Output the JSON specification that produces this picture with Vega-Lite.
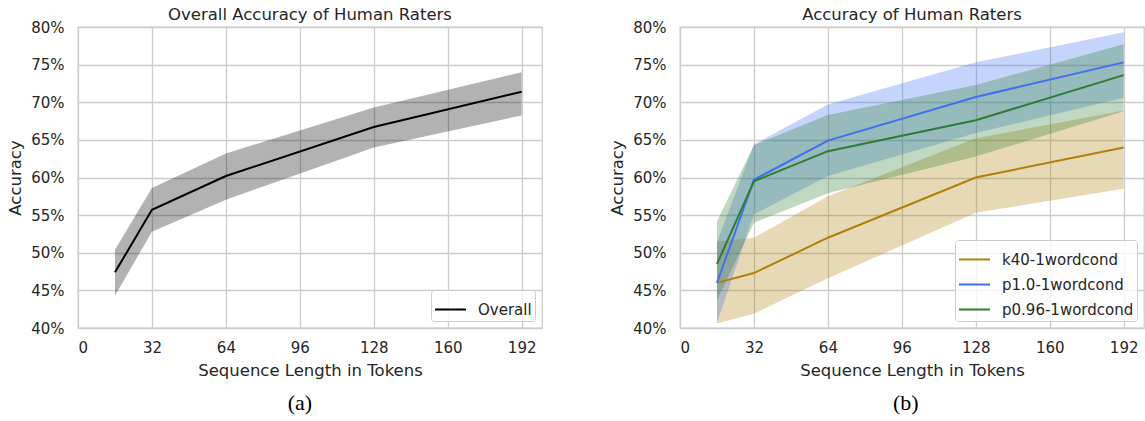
{
  "$schema": "https://vega.github.io/schema/vega-lite/v6.json",
  "background": "white",
  "padding": {"left": 7, "top": 5, "right": 0, "bottom": 0},
  "config": {
    "font": "DejaVu Sans",
    "view": {"stroke": "#cccccc", "strokeWidth": 1.3},
    "axis": {"grid": true, "gridColor": "#cccccc", "gridWidth": 1.3, "domain": false, "ticks": false, "labelOverlap": false,
      "labelFont": "DejaVu Sans", "labelFontSize": 15, "labelColor": "#262626",
      "titleFont": "DejaVu Sans", "titleFontSize": 16.5, "titleFontWeight": "normal", "titleColor": "#262626"},
    "axisX": {"labelPadding": 12, "titlePadding": 7},
    "axisY": {"labelPadding": 14, "titlePadding": 7},
    "title": {"font": "DejaVu Sans", "fontSize": 16.5, "fontWeight": "normal", "color": "#262626", "offset": -3},
    "legend": {"orient": "bottom-right", "offset": 7, "symbolType": "stroke", "symbolSize": 961, "symbolStrokeWidth": 2, "symbolOpacity": 1,
      "labelFont": "DejaVu Sans", "labelFontSize": 15, "labelColor": "#262626", "labelOffset": 11, "rowPadding": -7,
      "padding": 3, "fillColor": "rgba(255,255,255,0.8)", "strokeColor": "#cccccc", "cornerRadius": 3},
    "concat": {"spacing": 66}
  },
  "datasets": {
    "overall": [
      {"len": 16, "acc": 0.474, "lo": 0.443, "hi": 0.504, "series": "Overall"},
      {"len": 32, "acc": 0.557, "lo": 0.528, "hi": 0.586, "series": "Overall"},
      {"len": 64, "acc": 0.602, "lo": 0.5705, "hi": 0.632, "series": "Overall"},
      {"len": 128, "acc": 0.667, "lo": 0.640, "hi": 0.693, "series": "Overall"},
      {"len": 192, "acc": 0.714, "lo": 0.6825, "hi": 0.740, "series": "Overall"}
    ],
    "models": [
      {"len": 16, "acc": 0.460, "lo": 0.406, "hi": 0.515, "series": "k40-1wordcond"},
      {"len": 32, "acc": 0.473, "lo": 0.419, "hi": 0.520, "series": "k40-1wordcond"},
      {"len": 64, "acc": 0.520, "lo": 0.466, "hi": 0.575, "series": "k40-1wordcond"},
      {"len": 128, "acc": 0.600, "lo": 0.553, "hi": 0.652, "series": "k40-1wordcond"},
      {"len": 192, "acc": 0.640, "lo": 0.585, "hi": 0.689, "series": "k40-1wordcond"},
      {"len": 16, "acc": 0.460, "lo": 0.407, "hi": 0.514, "series": "p1.0-1wordcond"},
      {"len": 32, "acc": 0.597, "lo": 0.551, "hi": 0.644, "series": "p1.0-1wordcond"},
      {"len": 64, "acc": 0.649, "lo": 0.602, "hi": 0.697, "series": "p1.0-1wordcond"},
      {"len": 128, "acc": 0.707, "lo": 0.659, "hi": 0.753, "series": "p1.0-1wordcond"},
      {"len": 192, "acc": 0.753, "lo": 0.706, "hi": 0.793, "series": "p1.0-1wordcond"},
      {"len": 16, "acc": 0.485, "lo": 0.437, "hi": 0.542, "series": "p0.96-1wordcond"},
      {"len": 32, "acc": 0.595, "lo": 0.540, "hi": 0.643, "series": "p0.96-1wordcond"},
      {"len": 64, "acc": 0.635, "lo": 0.579, "hi": 0.683, "series": "p0.96-1wordcond"},
      {"len": 128, "acc": 0.676, "lo": 0.628, "hi": 0.723, "series": "p0.96-1wordcond"},
      {"len": 192, "acc": 0.736, "lo": 0.688, "hi": 0.777, "series": "p0.96-1wordcond"}
    ]
  },
  "hconcat": [
    {
      "title": {"text": "(a)", "orient": "bottom", "anchor": "middle", "dx": 25, "font": "Liberation Serif", "fontSize": 22, "color": "black", "offset": 14},
      "resolve": {"scale": {"color": "independent"}, "legend": {"color": "independent"}},
      "vconcat": [
        {
          "title": "Overall Accuracy of Human Raters",
          "width": 464, "height": 301,
          "data": {"name": "overall"},
          "encoding": {
            "x": {"field": "len", "type": "quantitative", "title": "Sequence Length in Tokens",
              "scale": {"domain": [0, 200.8], "nice": false, "zero": false},
              "axis": {"values": [0, 32, 64, 96, 128, 160, 192], "labelOverlap": false}},
            "color": {"field": "series", "type": "nominal", "title": null,
              "scale": {"domain": ["Overall"], "range": ["black"]},
              "legend": {"orient": "bottom-right"}}
          },
          "layer": [
            {"mark": {"type": "area", "opacity": 0.3},
             "encoding": {
               "y": {"field": "lo", "type": "quantitative", "title": "Accuracy",
                 "scale": {"domain": [0.4, 0.8], "nice": false, "zero": false},
                 "axis": {"values": [0.4, 0.45, 0.5, 0.55, 0.6, 0.65, 0.7, 0.75, 0.8], "format": ".0%", "labelOverlap": false}},
               "y2": {"field": "hi"}
             }},
            {"mark": {"type": "line", "strokeWidth": 2},
             "encoding": {"y": {"field": "acc", "type": "quantitative", "title": "Accuracy",
                 "scale": {"domain": [0.4, 0.8], "nice": false, "zero": false},
                 "axis": {"values": [0.4, 0.45, 0.5, 0.55, 0.6, 0.65, 0.7, 0.75, 0.8], "format": ".0%", "labelOverlap": false}}}}
          ]
        }
      ]
    },
    {
      "title": {"text": "(b)", "orient": "bottom", "anchor": "middle", "dx": 29, "font": "Liberation Serif", "fontSize": 22, "color": "black", "offset": 14},
      "resolve": {"scale": {"color": "independent"}, "legend": {"color": "independent"}},
      "vconcat": [
        {
          "title": "Accuracy of Human Raters",
          "width": 464, "height": 301,
          "data": {"name": "models"},
          "encoding": {
            "x": {"field": "len", "type": "quantitative", "title": "Sequence Length in Tokens",
              "scale": {"domain": [0, 200.8], "nice": false, "zero": false},
              "axis": {"values": [0, 32, 64, 96, 128, 160, 192], "labelOverlap": false}},
            "color": {"field": "series", "type": "nominal", "title": null,
              "scale": {"domain": ["k40-1wordcond", "p1.0-1wordcond", "p0.96-1wordcond"], "range": ["#b0800a", "#4070f0", "#2e7d32"]},
              "legend": {"orient": "bottom-right"}}
          },
          "layer": [
            {"mark": {"type": "area", "opacity": 0.3},
             "encoding": {
               "y": {"field": "lo", "type": "quantitative", "title": "Accuracy",
                 "scale": {"domain": [0.4, 0.8], "nice": false, "zero": false},
                 "axis": {"values": [0.4, 0.45, 0.5, 0.55, 0.6, 0.65, 0.7, 0.75, 0.8], "format": ".0%", "labelOverlap": false}},
               "y2": {"field": "hi"}
             }},
            {"mark": {"type": "line", "strokeWidth": 2},
             "encoding": {"y": {"field": "acc", "type": "quantitative", "title": "Accuracy",
                 "scale": {"domain": [0.4, 0.8], "nice": false, "zero": false},
                 "axis": {"values": [0.4, 0.45, 0.5, 0.55, 0.6, 0.65, 0.7, 0.75, 0.8], "format": ".0%", "labelOverlap": false}}}}
          ]
        }
      ]
    }
  ],
  "resolve": {"scale": {"color": "independent", "x": "independent", "y": "independent"}, "legend": {"color": "independent"}}
}
